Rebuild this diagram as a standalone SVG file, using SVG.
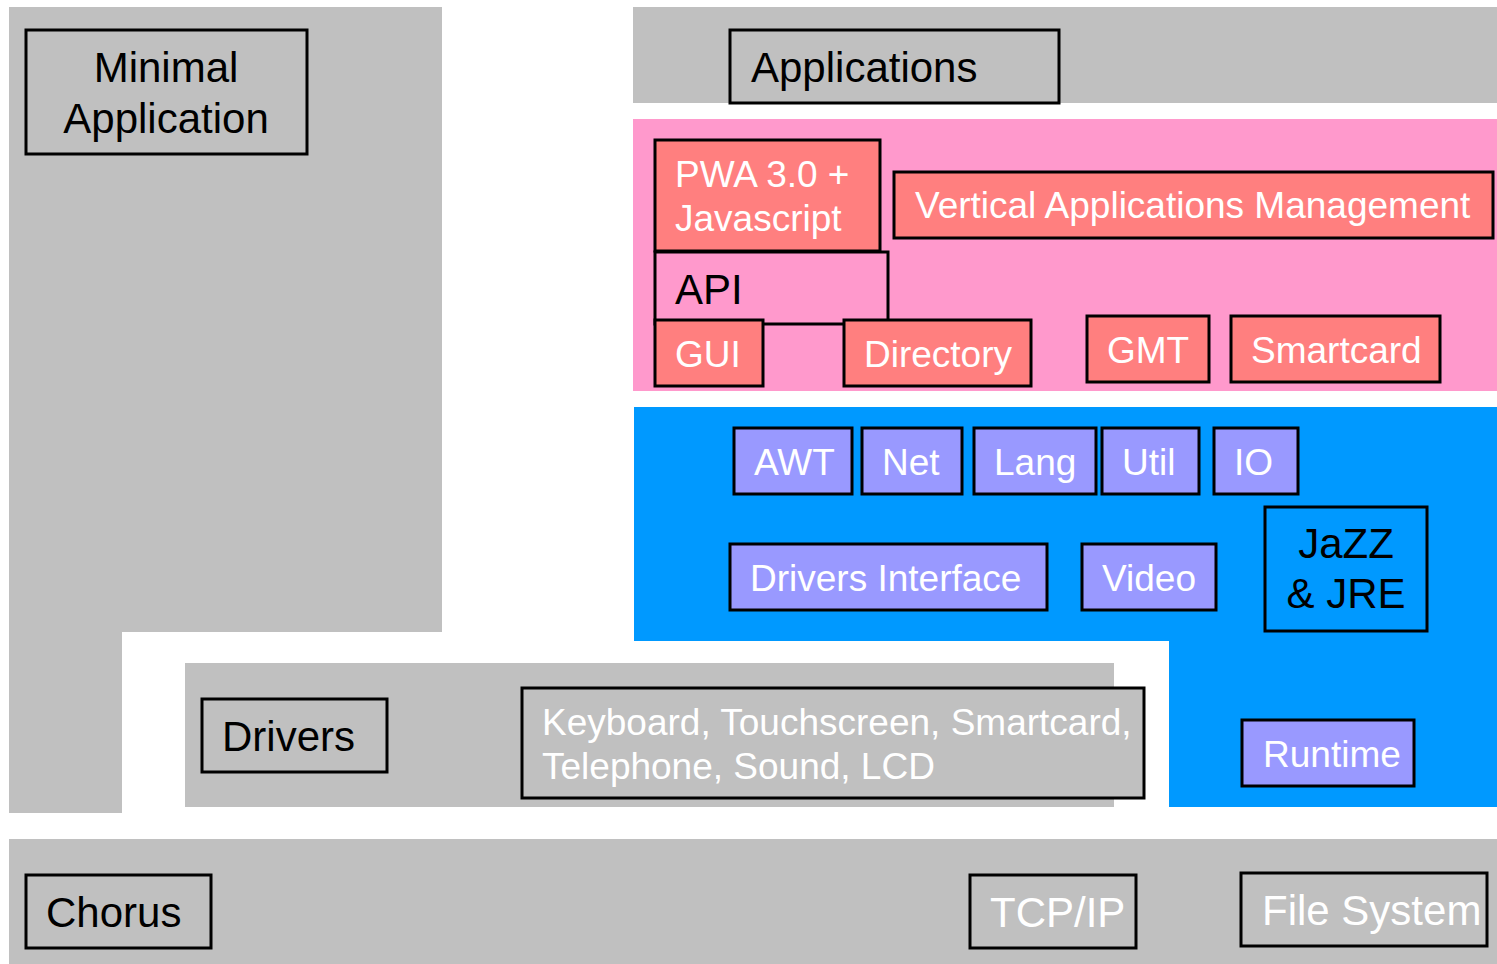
<svg xmlns="http://www.w3.org/2000/svg" width="1497" height="964" viewBox="0 0 1497 964">
<style>
text{font-family:"Liberation Sans",Arial,Helvetica,sans-serif}
.grey{fill:#c0c0c0}
.box{stroke:#000;stroke-width:3}
.gb{fill:#c0c0c0}
.nb{fill:none}
.sal{fill:#ff7f7f}
.lav{fill:#9999ff}
.big{font-size:42px}
.med{font-size:37px}
.w{fill:#fff}
.k{fill:#000}
</style>
<rect width="1497" height="964" fill="#fff"/>
<g id="panels">
<path class="grey" d="M9,7H442V632H122V813H9Z"/>
<rect class="grey" x="633" y="7" width="864" height="96"/>
<rect x="633" y="119" width="864" height="272" fill="#ff99cc"/>
<path d="M634,407H1497V807H1169V641H634Z" fill="#0099ff"/>
<rect class="grey" x="185" y="663" width="929" height="144"/>
<rect class="grey" x="9" y="839" width="1488" height="125"/>
</g>
<g id="minimal-application">
<rect class="box gb" x="26" y="30" width="281" height="124"/>
<text class="big k" x="166" y="82" text-anchor="middle">Minimal</text>
<text class="big k" x="166" y="133" text-anchor="middle">Application</text>
</g>
<g id="applications">
<rect class="box gb" x="730" y="30" width="329" height="73"/>
<text class="big k" x="751" y="82">Applications</text>
</g>
<g id="pwa">
<rect class="box sal" x="655" y="140" width="225" height="111"/>
<text class="med w" x="675" y="187">PWA 3.0 +</text>
<text class="med w" x="675" y="231">Javascript</text>
</g>
<g id="vam">
<rect class="box sal" x="894" y="172" width="599" height="66"/>
<text class="med w" x="915" y="218">Vertical Applications Management</text>
</g>
<g id="api">
<rect class="box nb" x="655" y="252" width="233" height="72"/>
<text class="big k" x="675" y="304">API</text>
</g>
<g id="gui">
<rect class="box sal" x="655" y="320" width="108" height="66"/>
<text class="med w" x="675" y="367">GUI</text>
</g>
<g id="directory">
<rect class="box sal" x="844" y="320" width="187" height="66"/>
<text class="med w" x="864" y="367">Directory</text>
</g>
<g id="gmt">
<rect class="box sal" x="1087" y="316" width="122" height="66"/>
<text class="med w" x="1107" y="363">GMT</text>
</g>
<g id="smartcard">
<rect class="box sal" x="1231" y="316" width="209" height="66"/>
<text class="med w" x="1251" y="363">Smartcard</text>
</g>
<g id="awt">
<rect class="box lav" x="734" y="428" width="118" height="66"/>
<text class="med w" x="754" y="475">AWT</text>
</g>
<g id="net">
<rect class="box lav" x="862" y="428" width="100" height="66"/>
<text class="med w" x="882" y="475">Net</text>
</g>
<g id="lang">
<rect class="box lav" x="974" y="428" width="122" height="66"/>
<text class="med w" x="994" y="475">Lang</text>
</g>
<g id="util">
<rect class="box lav" x="1102" y="428" width="97" height="66"/>
<text class="med w" x="1122" y="475">Util</text>
</g>
<g id="io">
<rect class="box lav" x="1214" y="428" width="84" height="66"/>
<text class="med w" x="1234" y="475">IO</text>
</g>
<g id="drivers-interface">
<rect class="box lav" x="730" y="544" width="317" height="66"/>
<text class="med w" x="750" y="591">Drivers Interface</text>
</g>
<g id="video">
<rect class="box lav" x="1082" y="544" width="134" height="66"/>
<text class="med w" x="1102" y="591">Video</text>
</g>
<g id="jazz">
<rect class="box nb" x="1265" y="507" width="162" height="124"/>
<text class="big k" x="1346" y="558" text-anchor="middle">JaZZ</text>
<text class="big k" x="1346" y="608" text-anchor="middle">&amp; JRE</text>
</g>
<g id="runtime">
<rect class="box lav" x="1242" y="720" width="172" height="66"/>
<text class="med w" x="1263" y="767">Runtime</text>
</g>
<g id="drivers">
<rect class="box gb" x="202" y="699" width="185" height="73"/>
<text class="big k" x="222" y="751">Drivers</text>
</g>
<g id="devices">
<rect class="box gb" x="522" y="688" width="622" height="110"/>
<text class="med w" x="542" y="735">Keyboard, Touchscreen, Smartcard,</text>
<text class="med w" x="542" y="779">Telephone, Sound, LCD</text>
</g>
<g id="chorus">
<rect class="box gb" x="26" y="875" width="185" height="73"/>
<text class="big k" x="46" y="927">Chorus</text>
</g>
<g id="tcpip">
<rect class="box gb" x="970" y="875" width="166" height="73"/>
<text class="big w" x="990" y="927">TCP/IP</text>
</g>
<g id="filesystem">
<rect class="box gb" x="1241" y="873" width="246" height="73"/>
<text class="big w" x="1262" y="925">File System</text>
</g>
</svg>
